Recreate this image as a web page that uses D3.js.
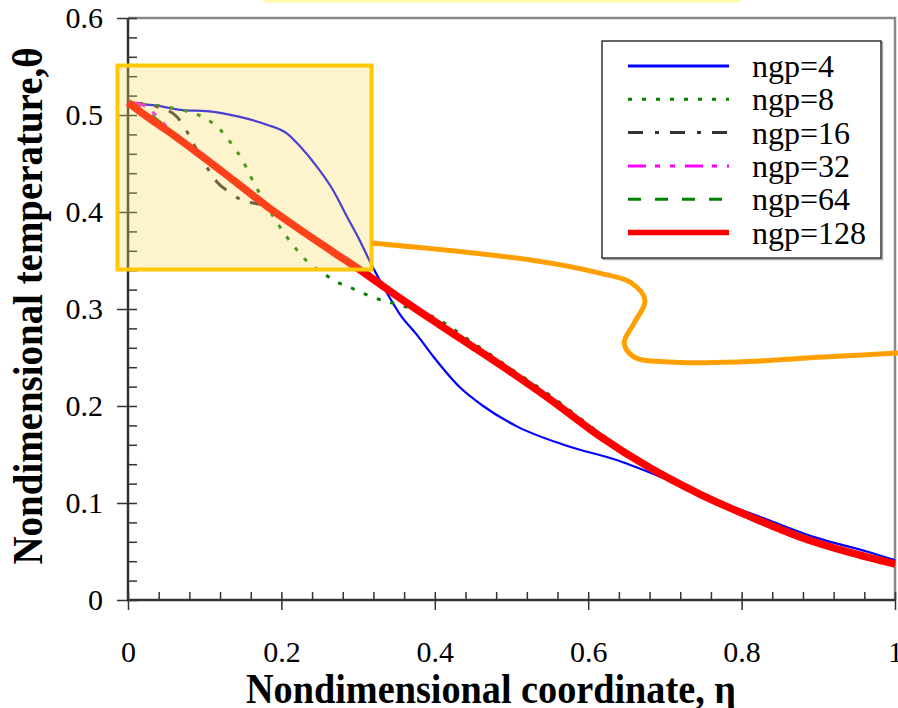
<!DOCTYPE html>
<html>
<head>
<meta charset="utf-8">
<script src="https://cdn.jsdelivr.net/npm/d3@7"></script>
<style>
    body { margin: 0; background: #fff; }
    svg { display: block; }
    svg text { font-family: "Liberation Serif", "Times New Roman", serif; }
</style>
</head>
<body>
<div id="container"></div>
<script>
// series values: [eta, theta]
const ngp4 = [[0, 0.512], [0.035, 0.510], [0.072, 0.505], [0.103, 0.504], [0.146, 0.498], [0.181, 0.490],
    [0.207, 0.481], [0.224, 0.468], [0.246, 0.447], [0.267, 0.423], [0.287, 0.393], [0.302, 0.371],
    [0.316, 0.348], [0.338, 0.316], [0.355, 0.294], [0.377, 0.273], [0.398, 0.251], [0.433, 0.219],
    [0.463, 0.200], [0.507, 0.179], [0.572, 0.159], [0.638, 0.144], [0.703, 0.124], [0.759, 0.105],
    [0.833, 0.083], [0.898, 0.064], [0.963, 0.050], [1.0, 0.041]];
const ngp8 = [[0, 0.512], [0.06, 0.507], [0.08, 0.503], [0.10, 0.497], [0.12, 0.485], [0.137, 0.468],
    [0.149, 0.454], [0.159, 0.438], [0.192, 0.392], [0.22, 0.361], [0.235, 0.348], [0.254, 0.337],
    [0.272, 0.328], [0.293, 0.321], [0.313, 0.314], [0.331, 0.309], [0.35, 0.305], [0.40, 0.291],
    [0.45, 0.265], [0.50, 0.238], [0.55, 0.211], [0.615, 0.172], [0.681, 0.138], [0.746, 0.110],
    [0.811, 0.087], [0.876, 0.066], [0.941, 0.049], [1.0, 0.037]];
const ngp16 = [[0, 0.513], [0.04, 0.508], [0.064, 0.498], [0.074, 0.487], [0.085, 0.471], [0.103, 0.446],
    [0.116, 0.431], [0.133, 0.420], [0.149, 0.412], [0.165, 0.409], [0.181, 0.406], [0.224, 0.383],
    [0.267, 0.361], [0.312, 0.338], [0.355, 0.313], [0.400, 0.289], [0.446, 0.265], [0.501, 0.236],
    [0.550, 0.209], [0.615, 0.170], [0.681, 0.137], [0.746, 0.110], [0.811, 0.086], [0.876, 0.065],
    [0.941, 0.049], [1.0, 0.037]];
const ngp32 = [[0, 0.513], [0.02, 0.510], [0.04, 0.497], [0.065, 0.474], [0.094, 0.460], [0.137, 0.433],
    [0.181, 0.405], [0.224, 0.382], [0.267, 0.360], [0.312, 0.337], [0.355, 0.312], [0.400, 0.288],
    [0.446, 0.264], [0.501, 0.235], [0.550, 0.208], [0.615, 0.169], [0.681, 0.136], [0.746, 0.109],
    [0.811, 0.086], [0.876, 0.065], [0.941, 0.049], [1.0, 0.037]];
const ngp64 = [[0, 0.513], [0.015, 0.508], [0.03, 0.500], [0.051, 0.487], [0.094, 0.461], [0.137, 0.435],
    [0.181, 0.407], [0.224, 0.383], [0.267, 0.361], [0.312, 0.338], [0.355, 0.313], [0.400, 0.289],
    [0.446, 0.265], [0.501, 0.236], [0.550, 0.209], [0.615, 0.170], [0.681, 0.137], [0.746, 0.110],
    [0.811, 0.086], [0.876, 0.065], [0.941, 0.049], [1.0, 0.037]];
const ngp128 = [[0, 0.513], [0.029, 0.496], [0.051, 0.484], [0.094, 0.459], [0.137, 0.433], [0.181, 0.406],
    [0.224, 0.382], [0.267, 0.359], [0.312, 0.335], [0.355, 0.311], [0.400, 0.287], [0.446, 0.263],
    [0.501, 0.234], [0.550, 0.207], [0.615, 0.169], [0.681, 0.136], [0.746, 0.109], [0.811, 0.086],
    [0.876, 0.065], [0.941, 0.049], [1.0, 0.037]];

const seriesNames = ["ngp=4", "ngp=8", "ngp=16", "ngp=32", "ngp=64", "ngp=128"];
const xTicks = [0, 0.2, 0.4, 0.6, 0.8, 1];
const yTicks = [0, 0.1, 0.2, 0.3, 0.4, 0.5, 0.6];

// zoomed region and the callout curve, in data units
const zoomBoxEta = [-0.0137, 0.3175];
const zoomBoxTheta = [0.3407, 0.551];
const calloutPath = [[0.3175, 0.368], [0.525, 0.3505], [0.615, 0.337], [0.656, 0.327], [0.674, 0.309],
    [0.660, 0.2856], [0.647, 0.265], [0.660, 0.2505], [0.705, 0.2454], [0.794, 0.2454],
    [0.906, 0.2505], [1.004, 0.2546]];

const width = 898;
const height = 708;

const svg = d3.select("#container")
    .append("svg")
    .attr("width", width)
    .attr("height", height);

const x = d3.scaleLinear().domain([0, 1]).range([128, 895]);
const y = d3.scaleLinear().domain([0, 0.6]).range([600, 18]);

const styles = [
    { color: "#0000ff", width: 2.2, dash: null, lw: 3 },
    { color: "#008000", width: 3, dash: "4,10", lw: 3 },
    { color: "#333333", width: 3, dash: "15,12,4,11", lw: 3 },
    { color: "#ff00ff", width: 3, dash: "18,9,5,10,5,10", lw: 3 },
    { color: "#008000", width: 3, dash: "13,14", lw: 3 },
    { color: "#ff0000", width: 7.5, dash: null, lw: 5.5 }
];
const allSeries = [ngp4, ngp8, ngp16, ngp32, ngp64, ngp128];

// pale strip at the top edge
svg.append("rect")
    .attr("x", x(0.177))
    .attr("y", 0)
    .attr("width", x(0.798) - x(0.177))
    .attr("height", 2.5)
    .attr("fill", "#fffaa8");

// frame (top and right)
svg.append("path")
    .attr("d", `M${x(0)},${y(0.6)}H${x(1)}V${y(0)}`)
    .attr("fill", "none")
    .attr("stroke", "#888")
    .attr("stroke-width", 2.5);

const fmt = d => (d === 0 || d === 1) ? String(d) : d.toFixed(1);

// x axis: major ticks outside with labels, all ticks inside
svg.append("g")
    .attr("transform", `translate(0,${y(0)})`)
    .call(d3.axisBottom(x).tickValues(xTicks).tickSize(10).tickPadding(31).tickFormat(fmt))
    .call(g => g.select(".domain").remove());
svg.append("g")
    .attr("transform", `translate(0,${y(0)})`)
    .call(d3.axisTop(x).tickValues(d3.range(0, 1.0001, 0.04)).tickSize(8).tickFormat(""))
    .call(g => g.select(".domain").remove());

// y axis
svg.append("g")
    .attr("transform", `translate(${x(0)},0)`)
    .call(d3.axisLeft(y).tickValues(yTicks).tickSize(11).tickPadding(14).tickFormat(fmt))
    .call(g => g.select(".domain").remove());
svg.append("g")
    .attr("transform", `translate(${x(0)},0)`)
    .call(d3.axisRight(y).tickValues(d3.range(0, 0.6001, 0.02)).tickSize(9).tickFormat(""))
    .call(g => g.select(".domain").remove());

svg.selectAll("g").attr("font-family", null).attr("font-size", null);
svg.selectAll(".tick line").attr("stroke", "#333").attr("stroke-width", 1.5);
svg.selectAll(".tick text")
    .attr("font-size", 30)
    .attr("fill", "#000");

svg.append("path")
    .attr("d", `M${x(0)},${y(0.6)}V${y(0)}H${x(1)}`)
    .attr("fill", "none")
    .attr("stroke", "#333")
    .attr("stroke-width", 2.5);

// curves
const line = d3.line()
    .x(d => x(d[0]))
    .y(d => y(d[1]))
    .curve(d3.curveMonotoneX);

svg.append("g")
    .selectAll("path")
    .data(allSeries)
    .join("path")
    .attr("d", line)
    .attr("fill", "none")
    .attr("stroke", (d, i) => styles[i].color)
    .attr("stroke-width", (d, i) => styles[i].width)
    .attr("stroke-dasharray", (d, i) => styles[i].dash)
    .attr("stroke-linejoin", "round");

// highlighted region
svg.append("rect")
    .attr("x", x(zoomBoxEta[0]))
    .attr("y", y(zoomBoxTheta[1]))
    .attr("width", x(zoomBoxEta[1]) - x(zoomBoxEta[0]))
    .attr("height", y(zoomBoxTheta[0]) - y(zoomBoxTheta[1]))
    .attr("fill", "rgba(248,215,88,0.3)")
    .attr("stroke", "#ffc800")
    .attr("stroke-width", 4);

svg.append("path")
    .datum(calloutPath)
    .attr("d", d3.line().x(d => x(d[0])).y(d => y(d[1])).curve(d3.curveCatmullRom.alpha(0.5)))
    .attr("fill", "none")
    .attr("stroke", "#ffa000")
    .attr("stroke-width", 5);

// legend
const legend = svg.append("g");
legend.append("rect")
    .attr("x", 603.5).attr("y", 42.5).attr("width", 279).attr("height", 217)
    .attr("fill", "none").attr("stroke", "#aaa").attr("stroke-width", 1.5);
legend.append("rect")
    .attr("x", 602).attr("y", 41).attr("width", 279).attr("height", 217)
    .attr("fill", "#fff").attr("stroke", "#000").attr("stroke-width", 1.2);

const rows = legend.selectAll("g.row")
    .data(seriesNames)
    .join("g")
    .attr("class", "row")
    .attr("transform", (d, i) => `translate(0,${66 + i * 33.3})`);

rows.append("line")
    .attr("x1", 628).attr("x2", 729)
    .attr("stroke", (d, i) => styles[i].color)
    .attr("stroke-width", (d, i) => styles[i].lw)
    .attr("stroke-dasharray", (d, i) => styles[i].dash);

rows.append("text")
    .attr("x", 752)
    .attr("y", 11)
    .attr("font-size", 32)
    .attr("fill", "#000")
    .text(d => d);

// axis titles
svg.append("text")
    .attr("x", 491)
    .attr("y", 703)
    .attr("text-anchor", "middle")
    .attr("font-size", 42)
    .attr("font-weight", "bold")
    .attr("textLength", 490)
    .attr("lengthAdjust", "spacingAndGlyphs")
    .text("Nondimensional coordinate, η");

svg.append("text")
    .attr("transform", "translate(42,306) rotate(-90)")
    .attr("text-anchor", "middle")
    .attr("font-size", 42)
    .attr("font-weight", "bold")
    .attr("textLength", 517)
    .attr("lengthAdjust", "spacingAndGlyphs")
    .text("Nondimensional temperature,θ");
</script>
</body>
</html>
